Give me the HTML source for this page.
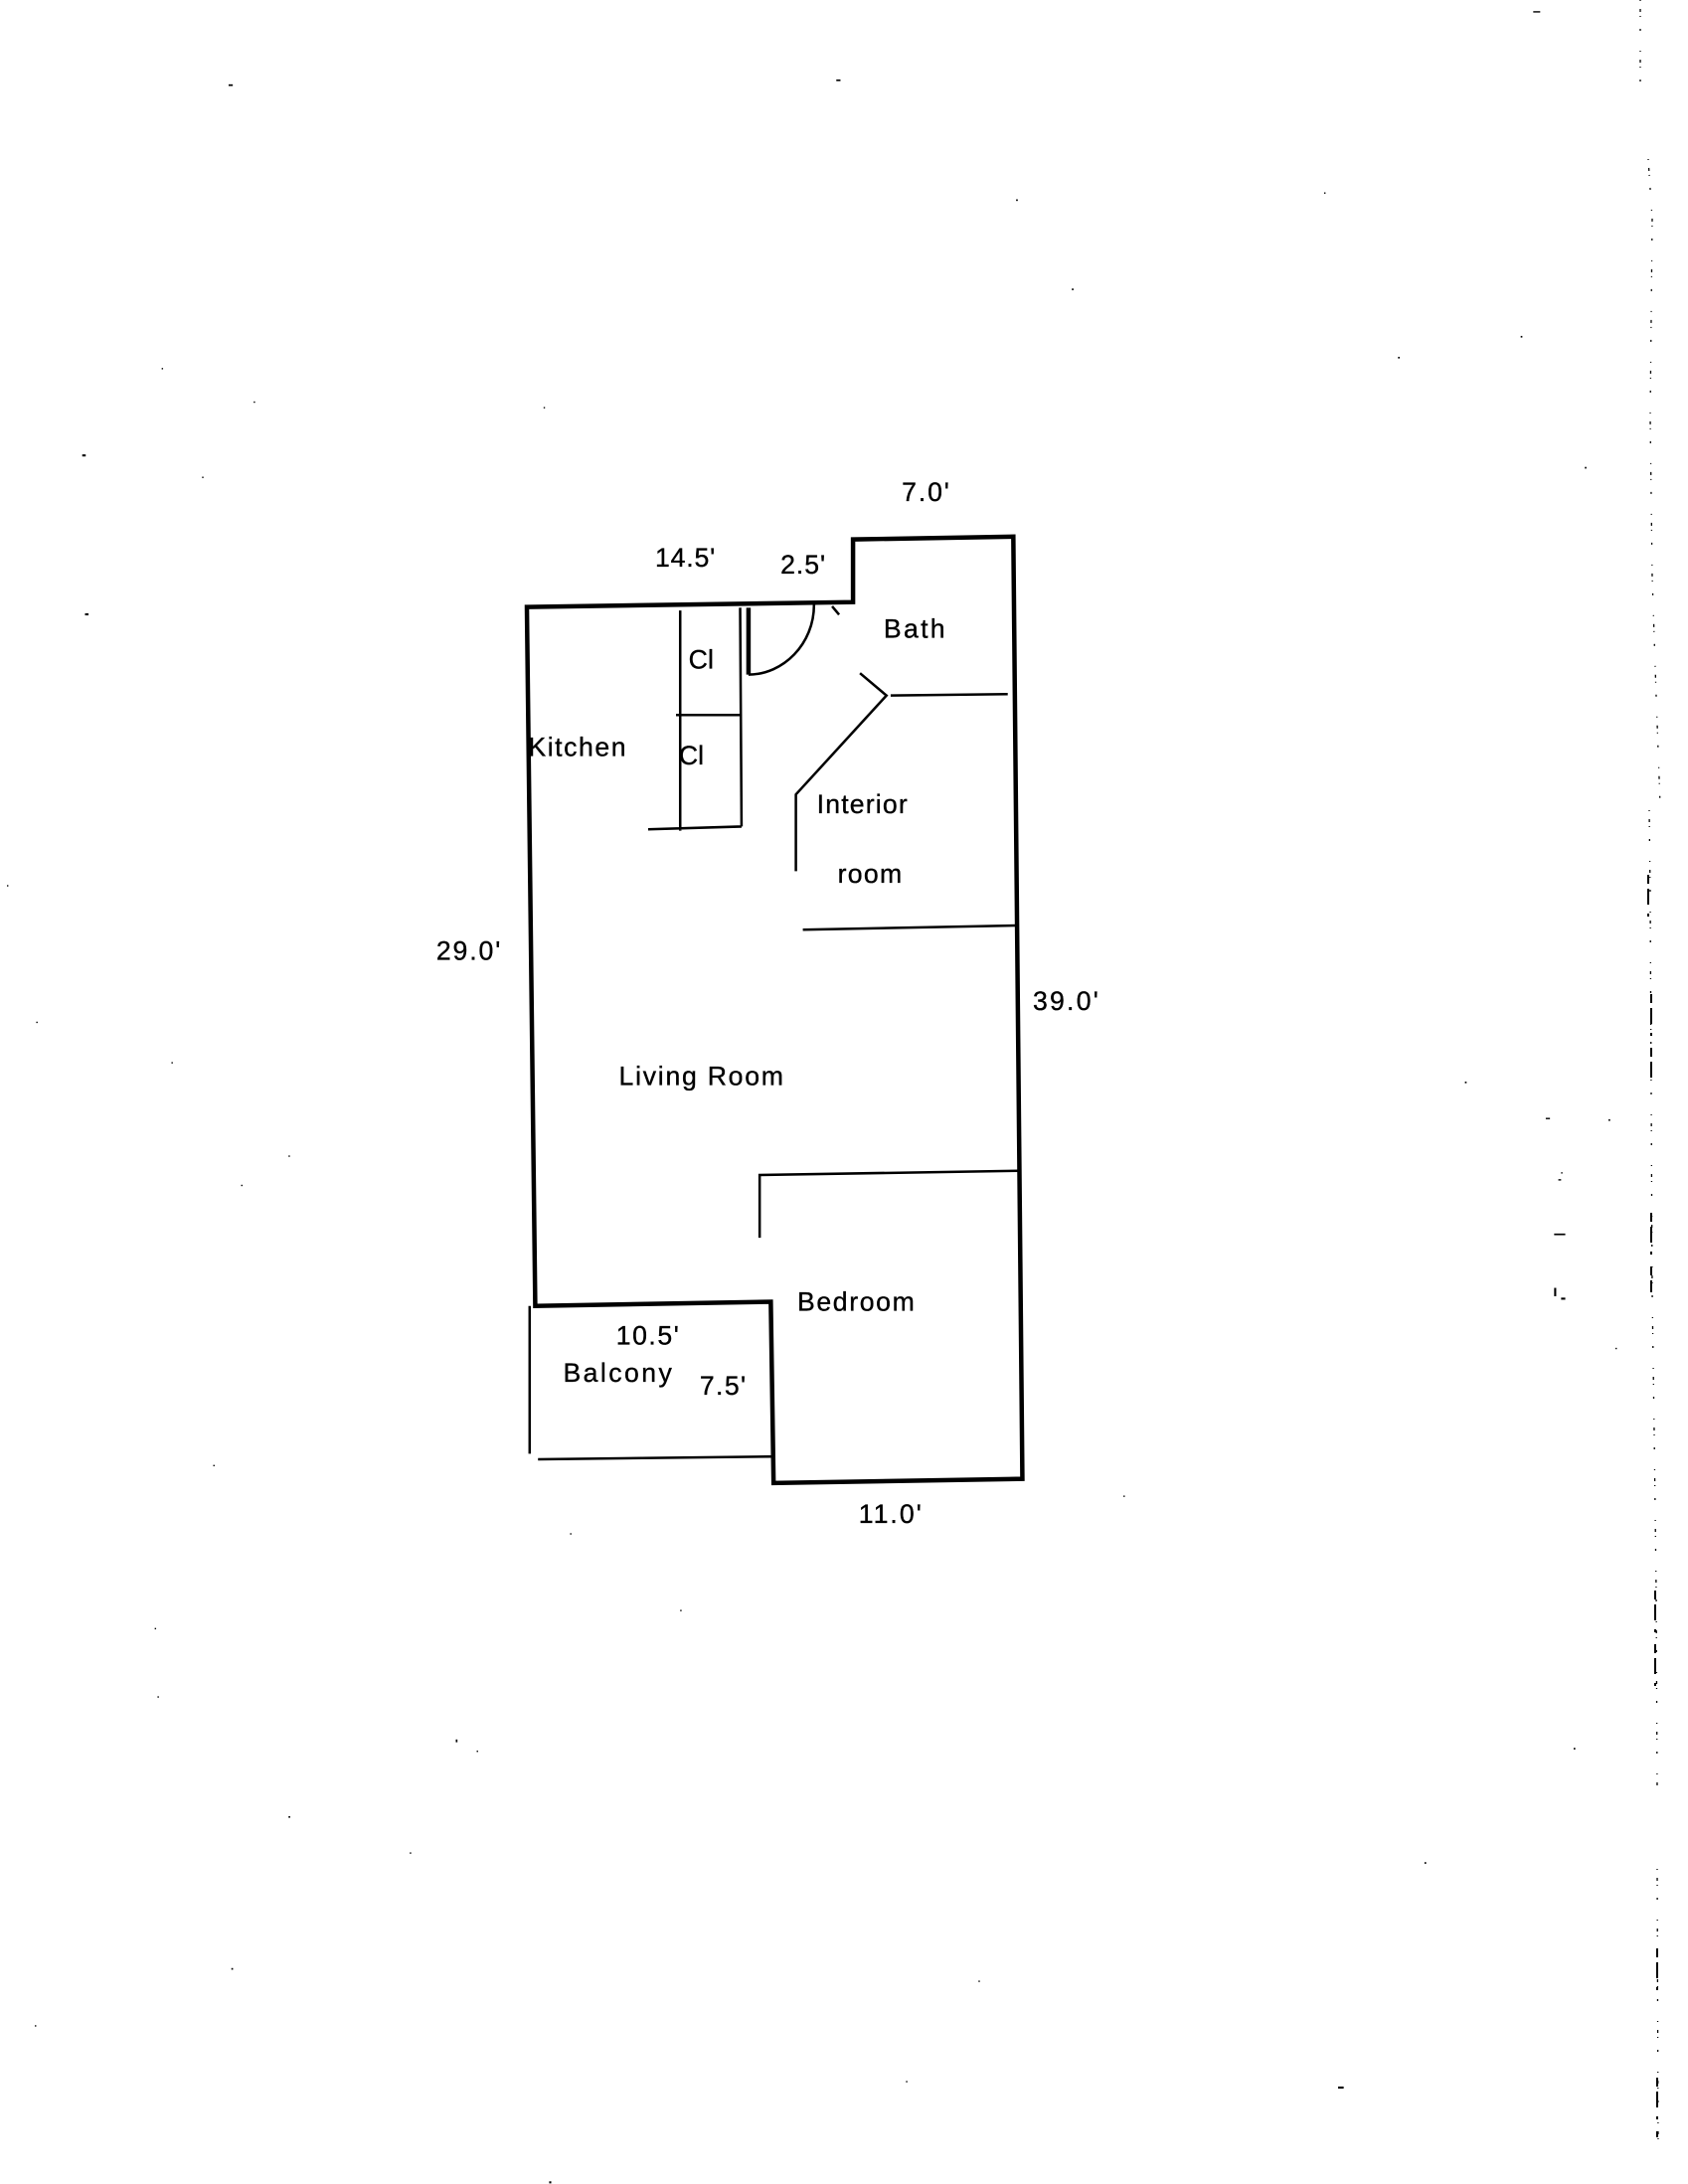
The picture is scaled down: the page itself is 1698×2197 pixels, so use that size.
<!DOCTYPE html>
<html><head><meta charset="utf-8"><style>
html,body{margin:0;padding:0;background:#fff}
svg{display:block}
text{font-family:"Liberation Sans",sans-serif;font-size:19px;fill:#000;stroke:#000;stroke-width:.25px}
</style></head><body>
<svg width="1698" height="2197" viewBox="0 0 1698 2197" xmlns="http://www.w3.org/2000/svg">
<rect width="1698" height="2197" fill="#fff"/>
<g fill="none" stroke="#000" stroke-dasharray="1 8 3 4 1 12 2 20" stroke-width="1.3">
<path d="M1650 0V100"/>
<path d="M1658 160L1662 220L1660 420L1662 580L1666 700L1670 810"/>
<path d="M1659 815L1660 900L1661 1100L1662 1300L1664 1440L1666 1600L1667 1800"/>
<path d="M1667 1880L1668 2160"/>
</g>
<g fill="none" stroke="#000" stroke-width="2" stroke-dasharray="9 5 16 9 3 12">
<path d="M1658 880V925"/><path d="M1661 1000V1090"/><path d="M1661 1220V1300"/><path d="M1665 1600V1700"/><path d="M1667 1960V2010"/><path d="M1667 2090V2150"/>
</g>
<g transform="scale(1.4021)">
<g fill="none" stroke="#000" stroke-linejoin="miter">
<path stroke-width="3.2" d="M378 435.5L612 432L612 387L727 385L733.5 1061L555 1064L553 934L384 937Z"/>
<path stroke-width="3.2" d="M537 436V484"/>
<g stroke-width="1.8">
<path d="M380 937V1043M386 1047L555 1045"/>
<path d="M545 888V843L731 840"/>
<path d="M576 667L729 664"/>
<path d="M571 625V570L636 499L617 483M639 499L723 498"/>
<path d="M488 438V596M531 436L532 593M465 595L532 593M485 513H532"/>
<path d="M537 484C562 484 584 462 584 434M597 435L602 441"/>
</g>
</g>
<g transform="translate(-1,-1.5)">
<text x="648" y="361" textLength="34">7.0'</text>
<text x="471" y="408" textLength="43">14.5'</text>
<text x="561" y="413" textLength="32">2.5'</text>
<text x="635" y="459" textLength="44">Bath</text>
<text x="495" y="481" textLength="18">Cl</text>
<text x="380" y="544" textLength="70">Kitchen</text>
<text x="488" y="550" textLength="18">Cl</text>
<text x="587" y="585" textLength="65">Interior</text>
<text x="602" y="635" textLength="46">room</text>
<text x="314" y="690" textLength="46">29.0'</text>
<text x="742" y="726" textLength="47">39.0'</text>
<text x="445" y="780" textLength="118">Living Room</text>
<text x="573" y="942" textLength="84">Bedroom</text>
<text x="443" y="966" textLength="45">10.5'</text>
<text x="405" y="993" textLength="78">Balcony</text>
<text x="503" y="1002" textLength="33">7.5'</text>
<text x="617" y="1094" textLength="45">11.0'</text>
</g>
<g fill="#000">
<rect x="164" y="60.5" width="3" height="1.2"/><rect x="600" y="57" width="3" height="1.2"/><rect x="1100" y="8" width="5" height="1"/><rect x="59" y="326" width="2.5" height="1.5"/><rect x="61" y="440" width="2.5" height="1.5"/><rect x="1137" y="335" width="1.2" height="1.2"/><rect x="1115" y="885" width="8" height="1.2"/><rect x="1115" y="924" width="1.5" height="6"/><rect x="1120" y="931" width="3" height="1.5"/><rect x="960" y="1497" width="4" height="1.5"/><rect x="394" y="1565" width="1.5" height="1.5"/><rect x="327" y="1248" width="1.2" height="2"/><rect x="1109" y="802" width="3" height="1"/><rect x="1118" y="846" width="2" height="1"/>
<rect x="729" y="143" width="1.2" height="1.2"/><rect x="769" y="207" width="1.2" height="1.2"/><rect x="1091" y="241" width="1.2" height="1.2"/><rect x="1003" y="256" width="1.2" height="1.2"/><rect x="116" y="264" width="1" height="1"/><rect x="182" y="288" width="1" height="1"/><rect x="390" y="292" width="1" height="1"/><rect x="145" y="342" width="1" height="1"/><rect x="5" y="635" width="1" height="1"/><rect x="26" y="733" width="1" height="1"/><rect x="123" y="762" width="1" height="1"/><rect x="207" y="829" width="1" height="1"/><rect x="173" y="850" width="1" height="1"/><rect x="1051" y="776" width="1.2" height="1.2"/><rect x="1154" y="803" width="1.2" height="1.2"/><rect x="1159" y="967" width="1" height="1"/><rect x="806" y="1073" width="1" height="1"/><rect x="153" y="1051" width="1" height="1"/><rect x="409" y="1100" width="1" height="1"/><rect x="488" y="1155" width="1" height="1"/><rect x="111" y="1168" width="1" height="1"/><rect x="113" y="1217" width="1" height="1"/><rect x="207" y="1303" width="1.2" height="1.2"/><rect x="342" y="1256" width="1" height="1"/><rect x="1129" y="1254" width="1.2" height="1.2"/><rect x="1022" y="1336" width="1.2" height="1.2"/><rect x="294" y="1329" width="1" height="1"/><rect x="166" y="1412" width="1.2" height="1.2"/><rect x="702" y="1421" width="1" height="1"/><rect x="25" y="1453" width="1" height="1"/><rect x="650" y="1493" width="1" height="1"/><rect x="950" y="138" width="1" height="1"/><rect x="1120" y="841" width="1" height="1"/>
</g>
</g>
</svg>
</body></html>
